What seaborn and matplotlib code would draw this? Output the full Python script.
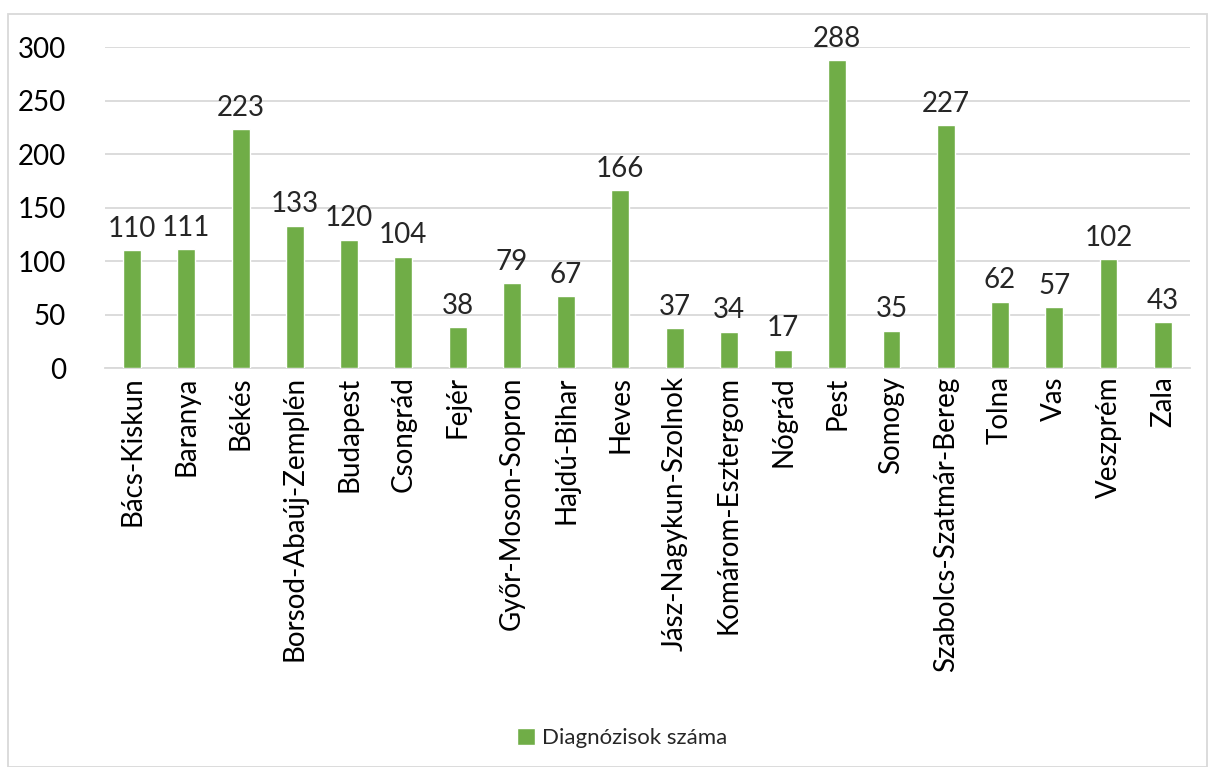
import matplotlib
matplotlib.use("Agg")
import matplotlib.pyplot as plt
import seaborn as sns
import pandas as pd
from matplotlib.patches import Rectangle

categories = ["Bács-Kiskun", "Baranya", "Békés", "Borsod-Abaúj-Zemplén", "Budapest",
              "Csongrád", "Fejér", "Győr-Moson-Sopron", "Hajdú-Bihar", "Heves",
              "Jász-Nagykun-Szolnok", "Komárom-Esztergom", "Nógrád", "Pest", "Somogy",
              "Szabolcs-Szatmár-Bereg", "Tolna", "Vas", "Veszprém", "Zala"]
values = [110, 111, 223, 133, 120, 104, 38, 79, 67, 166, 37, 34, 17, 288, 35, 227, 62, 57, 102, 43]
series_name = "Diagnózisok száma"
yticks = [0, 50, 100, 150, 200, 250, 300]

sns.set_theme(style="white")
plt.rcParams['font.family'] = ['Lato', 'DejaVu Sans']

df = pd.DataFrame({"megye": categories, "ertek": values})

fig = plt.figure(figsize=(12.08, 7.67), dpi=100)
ax = fig.add_axes([0.0869, 0.5202, 0.985 - 0.0869, 0.9387 - 0.5202])

sns.barplot(data=df, x="megye", y="ertek", color="#70AD47", width=0.33,
            saturation=1, ax=ax, label=series_name, zorder=3)

ax.set_ylim(0, 300)
ax.set_yticks(yticks)
ax.yaxis.grid(True, color="#D9D9D9", linewidth=1.3, zorder=0)
ax.set_axisbelow(True)
for s in ["top", "right", "left"]:
    ax.spines[s].set_visible(False)
ax.spines["bottom"].set_color("#D9D9D9")
ax.spines["bottom"].set_linewidth(1.3)
ax.tick_params(axis="both", length=0, labelsize=20, colors="black")
ax.tick_params(axis="y", pad=28)
ax.tick_params(axis="x", pad=6)
plt.setp(ax.get_xticklabels(), rotation=90)
ax.set_xlabel("")
ax.set_ylabel("")
ax.set_xlim(-0.5, len(categories) - 0.5)

for container in ax.containers:
    ax.bar_label(container, labels=[str(v) for v in values], fontsize=20, padding=6)

if ax.get_legend():
    ax.get_legend().remove()
h, l = ax.get_legend_handles_labels()
fig.legend(h, l, loc="center", bbox_to_anchor=(0.515, 0.038), frameon=False,
           fontsize=16, handlelength=0.8, handleheight=0.8, handletextpad=0.3)

fig.patches.append(Rectangle((8 / 1208, 0), 1 - 8 / 1208 - 0.001, 1 - 14 / 767,
                             transform=fig.transFigure, fill=False,
                             edgecolor="#D9D9D9", linewidth=1.3))

fig.savefig("out.png", dpi=100)
